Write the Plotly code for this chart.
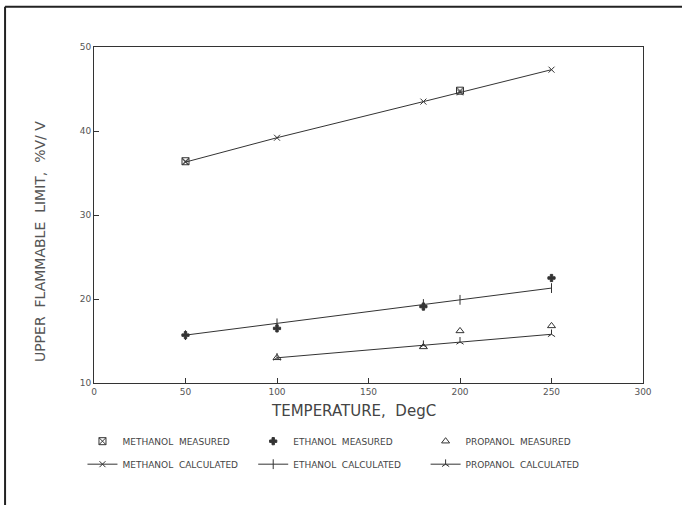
import plotly.graph_objects as go

# ---- data ----
meth_meas_x = [50, 200]
meth_meas_y = [36.4, 44.8]
eth_meas_x = [50, 100, 180, 250]
eth_meas_y = [15.7, 16.5, 19.1, 22.5]
prop_meas_x = [100, 180, 200, 250]
prop_meas_y = [13.0, 14.3, 16.2, 16.8]

meth_calc_x = [50, 100, 180, 200, 250]
meth_calc_y = [36.3, 39.2, 43.5, 44.6, 47.3]
eth_calc_x = [50, 100, 180, 200, 250]
eth_calc_y = [15.7, 17.1, 19.4, 19.9, 21.3]
prop_calc_x = [100, 180, 200, 250]
prop_calc_y = [13.0, 14.5, 14.9, 15.8]

x_ticks = [0, 50, 100, 150, 200, 250, 300]
y_ticks = [10, 20, 30, 40, 50]

x_title = "TEMPERATURE,  DegC"
y_title = "UPPER  FLAMMABLE  LIMIT,  %V/ V"

INK = "#333333"
FONT = "DejaVu Sans"

fig = go.Figure()

def add(x, y, name, mode, symbol, size, legend, group, rank):
    fig.add_trace(go.Scatter(
        x=x, y=y, name=name, mode=mode,
        line=dict(color=INK, width=1),
        marker=dict(symbol=symbol, size=size, color=INK,
                    line=dict(color=INK, width=1)),
        legend=legend, legendgroup=group, legendrank=rank,
    ))

add(meth_calc_x, meth_calc_y, "METHANOL  CALCULATED", "lines+markers", "x-thin", 6, "legend", "mc", 2)
add(eth_calc_x, eth_calc_y, "ETHANOL  CALCULATED", "lines+markers", "line-ns", 7, "legend2", "ec", 2)
add(prop_calc_x, prop_calc_y, "PROPANOL  CALCULATED", "lines+markers", "y-up", 6, "legend3", "pc", 2)
add(meth_meas_x, meth_meas_y, "METHANOL  MEASURED", "markers", "square-x-open", 7, "legend", "mm", 1)
add(eth_meas_x, eth_meas_y, "ETHANOL  MEASURED", "markers", "cross", 6, "legend2", "em", 1)
add(prop_meas_x, prop_meas_y, "PROPANOL  MEASURED", "markers", "triangle-up-open", 7, "legend3", "pm", 1)

leg_common = dict(font=dict(family=FONT, size=9, color="#444444"), bgcolor="rgba(0,0,0,0)",
                  yanchor="top", xanchor="left", tracegroupgap=4,
                  traceorder="grouped", orientation="v")

fig.update_layout(
    width=682, height=505,
    margin=dict(l=94, r=39, t=47, b=122),
    paper_bgcolor="white", plot_bgcolor="white",
    font=dict(family=FONT, color=INK),
    legend=dict(x=-0.021, y=-0.13, **leg_common),
    legend2=dict(x=0.290, y=-0.13, **leg_common),
    legend3=dict(x=0.604, y=-0.13, **leg_common),
    xaxis=dict(range=[0, 300], tickvals=x_ticks, ticks="inside", ticklen=5,
               tickcolor=INK, showgrid=False, zeroline=False,
               showline=True, linecolor=INK, linewidth=1, mirror=True,
               tickfont=dict(family=FONT, size=9, color="#555555")),
    yaxis=dict(range=[10, 50], tickvals=y_ticks, ticks="inside", ticklen=5,
               tickcolor=INK, showgrid=False, zeroline=False,
               showline=True, linecolor=INK, linewidth=1, mirror=True,
               tickfont=dict(family=FONT, size=9, color="#555555")),
)

fig.add_annotation(text=x_title, xref="paper", yref="paper", x=0.472, y=-0.083,
                   xanchor="center", yanchor="middle", showarrow=False,
                   font=dict(family=FONT, size=15, color="#444444"))
fig.add_annotation(text=y_title, xref="paper", yref="paper", x=-0.098, y=0.42,
                   xanchor="center", yanchor="middle", showarrow=False, textangle=-90,
                   font=dict(family=FONT, size=14, color="#555555"))

# outer frame of the scanned page (top and left edges)
fig.add_shape(type="line", xref="paper", yref="paper",
              x0=-0.162, x1=1.075, y0=1.12, y1=1.12,
              line=dict(color="#222222", width=2))
fig.add_shape(type="line", xref="paper", yref="paper",
              x0=-0.162, x1=-0.162, y0=1.12, y1=-0.37,
              line=dict(color="#222222", width=2))

fig.write_html("out.html", config={"displayModeBar": False},
               post_script="document.body.style.margin='0';")
